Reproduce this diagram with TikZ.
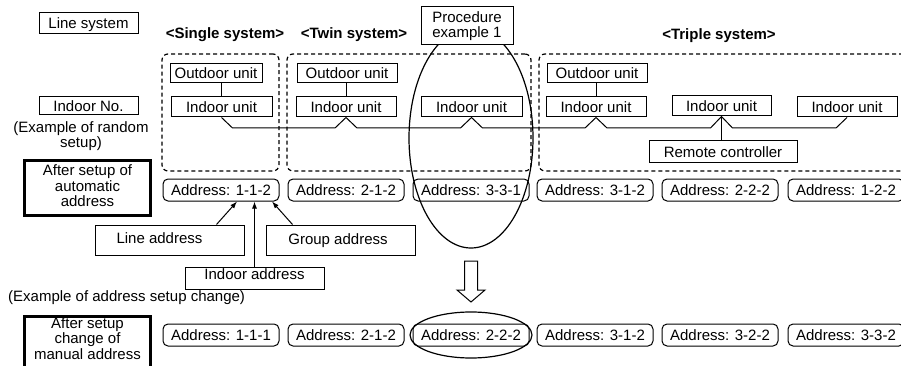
\documentclass[tikz,border=0pt]{standalone}
\usepackage{fontspec}
\setmainfont{Liberation Sans}
\usetikzlibrary{calc,arrows.meta,shapes.geometric}
\begin{document}
\begin{tikzpicture}[x=1pt,y=-1pt,
  every node/.style={font=\fontsize{15}{15.5}\selectfont, inner sep=0pt},
  box/.style={draw, line width=1pt, fill=white, text height=10.7pt, text depth=0pt},
  abox/.style={box, rounded corners=5pt, minimum width=116pt, minimum height=22pt},
  ubox/.style={box, minimum height=20pt},
  obox/.style={box, minimum height=19pt},
  grp/.style={draw, dash pattern=on 4pt off 3pt, line width=1.2pt, rounded corners=6pt},
  tbox/.style={draw, line width=3pt},
  hdr/.style={font=\fontsize{15}{15.5}\selectfont\bfseries},
  mline/.style={align=center},
  wire/.style={line width=1pt},
  arr/.style={line width=1pt, -{Latex[length=7pt,width=5pt]}},
  ring/.style={draw, ellipse, line width=1.2pt},
]
\useasboundingbox (0,0) rectangle (901,366);
\clip (0,0) rectangle (901,366);

% left labels
\node[box, minimum width=99pt, minimum height=21pt] (lsys) at (88.5,23.5) {Line system};
\node[box, minimum width=99pt, minimum height=18pt] (ino) at (88.5,106) {Indoor No.};
\node[mline] (ex1) at (81,136) {(Example of random\\setup)};
\node[tbox, minimum width=126pt, minimum height=55pt] (auto) at (87.5,188) {};
\node[mline] (autot) at (87.5,186) {After setup of\\automatic\\address};
\node[anchor=west] (ex2) at (8,298) {(Example of address setup change)};
\node[tbox, minimum width=126pt, minimum height=70pt, anchor=north] (man) at (87.5,314.5) {};
\node[mline] (mant) at (87.5,338.5) {After setup\\change of\\manual address};

% headers
\node[hdr] (hs) at (225,35) {<Single system>};
\node[hdr] (ht) at (354,35) {<Twin system>};
\node[hdr] (htr) at (719,36) {<Triple system>};

% dashed groups
\node[grp, minimum width=117pt, minimum height=117pt] (gs) at (220.5,112.5) {};
\node[grp, minimum width=244pt, minimum height=117pt] (gt) at (409,112.5) {};
\node[grp, minimum width=370pt, minimum height=117pt] (gtr) at (724,112.5) {};

% units
\node[obox, minimum width=92pt] (so) at (216,73) {Outdoor unit};
\node[ubox, minimum width=101pt] (si) at (221.5,107) {Indoor unit};
\node[obox, minimum width=100pt] (to) at (347,73) {Outdoor unit};
\node[ubox, minimum width=100pt] (ti1) at (346,107) {Indoor unit};
\node[ubox, minimum width=101pt] (ti2) at (471.5,107) {Indoor unit};
\node[obox, minimum width=100pt] (tro) at (597,73) {Outdoor unit};
\node[ubox, minimum width=100pt] (tr1) at (596,107) {Indoor unit};
\node[ubox, minimum width=99pt] (tr2) at (721.5,106) {Indoor unit};
\node[ubox, minimum width=100pt] (tr3) at (847,107) {Indoor unit};

\draw[wire] (si.north |- so.south) -- (si.north);
\draw[wire] (ti1.north |- to.south) -- (ti1.north);
\draw[wire] (tr1.north |- tro.south) -- (tr1.north);

% bus wiring
\coordinate (bus) at (0,128);
\draw[wire] (si.south) -- ($(si.south |- bus)+(11,0)$)
  -- ($(ti1.south |- bus)+(-11,0)$) -- (ti1.south) -- ($(ti1.south |- bus)+(11,0)$)
  -- ($(ti2.south |- bus)+(-11,0)$) -- (ti2.south) -- ($(ti2.south |- bus)+(11,0)$)
  -- ($(tr1.south |- bus)+(-11,0)$) -- (tr1.south) -- ($(tr1.south |- bus)+(11,0)$)
  -- ($(tr2.south |- bus)+(-11,0)$) -- (tr2.south) -- ($(tr2.south |- bus)+(11,0)$)
  -- ($(tr3.south |- bus)+(-11,0)$) -- (tr3.south);

\node[box, minimum width=148pt, minimum height=22pt] (rc) at (723,152) {Remote controller};
\draw[wire] (tr2.south) -- (tr2.south |- rc.north);

% address row 1
\node[abox] (a1) at (221,190) {Address: 1-1-2};
\node[abox] (a2) at (346,190) {Address: 2-1-2};
\node[abox] (a3) at (471,190) {Address: 3-3-1};
\node[abox] (a4) at (595,190) {Address: 3-1-2};
\node[abox] (a5) at (720,190) {Address: 2-2-2};
\node[abox] (a6) at (846,190) {Address: 1-2-2};

% address row 2
\node[abox] (b1) at (221,335) {Address: 1-1-1};
\node[abox] (b2) at (346,335) {Address: 2-1-2};
\node[abox] (b3) at (471,335) {Address: 2-2-2};
\node[abox] (b4) at (595,335) {Address: 3-1-2};
\node[abox] (b5) at (720,335) {Address: 3-2-2};
\node[abox] (b6) at (846,335) {Address: 3-3-2};

% address part labels
\node[draw, line width=1pt, minimum width=149pt, minimum height=30pt] (la) at (169.5,240) {};
\node (lat) at (159.5,238.5) {Line address};
\node[draw, line width=1pt, minimum width=149pt, minimum height=30pt] (ga) at (340.5,240) {};
\node (gat) at (338,240.5) {Group address};
\node[draw, line width=1pt, minimum width=139pt, minimum height=22pt] (ia) at (254.5,278) {};
\node (iat) at (254.5,274) {Indoor address};

\draw[arr] ($(la.north west)+(122,0)$) -- ($(a1.south)+(16,0)$);
\draw[arr] (ia.north) -- (ia.north |- a1.south);
\draw[arr] ($(ga.north west)+(27,0)$) -- ($(a1.south)+(51,0)$);

% highlight rings
\node[ring, minimum width=124pt, minimum height=220pt] (hl) at (471,138) {};
\node[ring, minimum width=122pt, minimum height=46pt] (hl2) at (471,335) {};

% procedure box
\node[draw, line width=1pt, fill=white, minimum width=92pt, minimum height=38pt, mline] (proc) at (467,26) {Procedure\\example 1};

% hollow down arrow
\coordinate (ha) at (471,261);
\draw[line width=1pt, fill=white] ($(ha)+(-6.5,0)$) -- ($(ha)+(6.5,0)$) -- ($(ha)+(6.5,29)$)
  -- ($(ha)+(14,29)$) -- ($(ha)+(0,41)$) -- ($(ha)+(-14,29)$) -- ($(ha)+(-6.5,29)$) -- cycle;
\end{tikzpicture}
\end{document}
